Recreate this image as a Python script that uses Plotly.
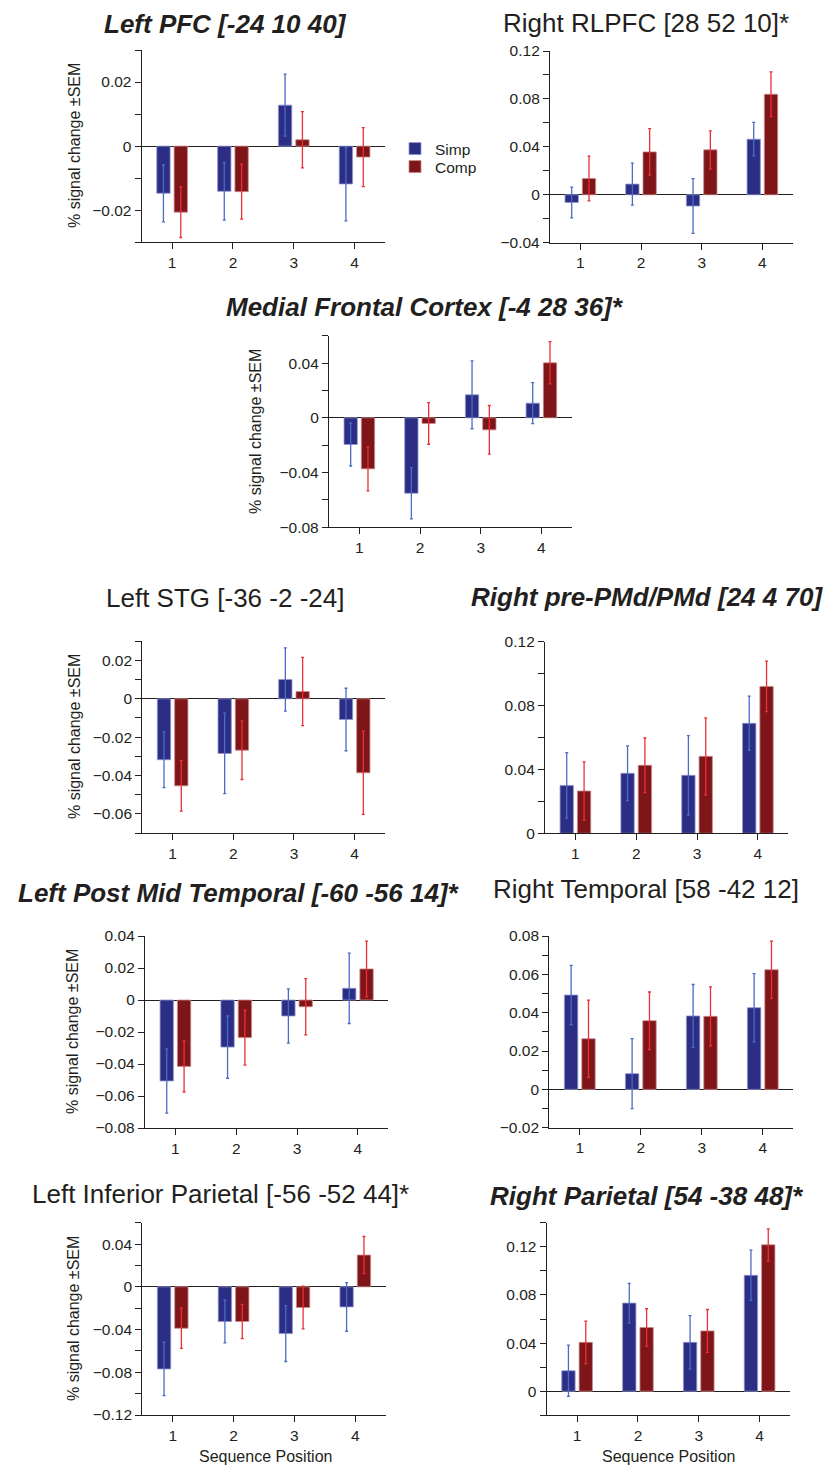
import plotly.graph_objects as go

W, H = 831, 1466
PAGE_OFFSET = 8  # the page body margin shifts the figure by this many pixels

# ---------------- data ----------------
positions = [1, 2, 3, 4]
position_labels = ["1", "2", "3", "4"]
series_names = ["Simp", "Comp"]

panel_titles = [
    "Left PFC [-24 10 40]",
    "Right RLPFC [28 52 10]*",
    "Medial Frontal Cortex [-4 28 36]*",
    "Left STG [-36 -2 -24]",
    "Right pre-PMd/PMd [24 4 70]",
    "Left Post Mid Temporal [-60 -56 14]*",
    "Right Temporal [58 -42 12]",
    "Left Inferior Parietal [-56 -52 44]*",
    "Right Parietal [54 -38 48]*",
]
title_bold = [True, False, True, False, True, True, False, False, True]

left_pfc_simp = [-0.0147, -0.0141, 0.0128, -0.0118]
left_pfc_simp_sem = [0.0089, 0.0090, 0.0097, 0.0115]
left_pfc_comp = [-0.0206, -0.0142, 0.0020, -0.0034]
left_pfc_comp_sem = [0.0079, 0.0086, 0.0088, 0.0092]

right_rlpfc_simp = [-0.0064, 0.0089, -0.0094, 0.0464]
right_rlpfc_simp_sem = [0.0128, 0.0175, 0.0228, 0.0140]
right_rlpfc_comp = [0.0136, 0.0358, 0.0375, 0.0839]
right_rlpfc_comp_sem = [0.0187, 0.0194, 0.0158, 0.0187]

medial_frontal_simp = [-0.0195, -0.0551, 0.0168, 0.0107]
medial_frontal_simp_sem = [0.0157, 0.0187, 0.0248, 0.0150]
medial_frontal_comp = [-0.0373, -0.0041, -0.0088, 0.0402]
medial_frontal_comp_sem = [0.0161, 0.0152, 0.0178, 0.0154]

left_stg_simp = [-0.0318, -0.0285, 0.0101, -0.0108]
left_stg_simp_sem = [0.0145, 0.0210, 0.0165, 0.0163]
left_stg_comp = [-0.0454, -0.0268, 0.0038, -0.0386]
left_stg_comp_sem = [0.0132, 0.0153, 0.0178, 0.0217]

right_pmd_simp = [0.0300, 0.0376, 0.0363, 0.0689]
right_pmd_simp_sem = [0.0205, 0.0171, 0.0249, 0.0170]
right_pmd_comp = [0.0265, 0.0426, 0.0482, 0.0920]
right_pmd_comp_sem = [0.0182, 0.0171, 0.0241, 0.0158]

left_pmt_simp = [-0.0506, -0.0294, -0.0100, 0.0073]
left_pmt_simp_sem = [0.0201, 0.0195, 0.0169, 0.0220]
left_pmt_comp = [-0.0415, -0.0235, -0.0042, 0.0194]
left_pmt_comp_sem = [0.0160, 0.0172, 0.0176, 0.0174]

right_temporal_simp = [0.0492, 0.0082, 0.0383, 0.0426]
right_temporal_simp_sem = [0.0155, 0.0183, 0.0164, 0.0178]
right_temporal_comp = [0.0264, 0.0358, 0.0381, 0.0624]
right_temporal_comp_sem = [0.0201, 0.0150, 0.0154, 0.0149]

left_ip_simp = [-0.0769, -0.0325, -0.0438, -0.0188]
left_ip_simp_sem = [0.0250, 0.0199, 0.0261, 0.0228]
left_ip_comp = [-0.0388, -0.0325, -0.0194, 0.0297]
left_ip_comp_sem = [0.0188, 0.0161, 0.0200, 0.0174]

right_parietal_simp = [0.0170, 0.0732, 0.0406, 0.0963]
right_parietal_simp_sem = [0.0213, 0.0164, 0.0222, 0.0209]
right_parietal_comp = [0.0406, 0.0529, 0.0501, 0.1216]
right_parietal_comp_sem = [0.0177, 0.0156, 0.0178, 0.0132]

y_ranges = [(-0.03, 0.03), (-0.04, 0.12), (-0.08, 0.06), (-0.07, 0.03), (0.0, 0.12),
            (-0.08, 0.04), (-0.02, 0.08), (-0.12, 0.06), (-0.02, 0.14)]
y_major = [0.02, 0.04, 0.04, 0.02, 0.04, 0.02, 0.02, 0.04, 0.04]
y_minor = [0.01, 0.02, 0.02, 0.01, 0.02, None, 0.01, 0.02, 0.02]

panels_data = [
    (left_pfc_simp, left_pfc_simp_sem, left_pfc_comp, left_pfc_comp_sem),
    (right_rlpfc_simp, right_rlpfc_simp_sem, right_rlpfc_comp, right_rlpfc_comp_sem),
    (medial_frontal_simp, medial_frontal_simp_sem, medial_frontal_comp, medial_frontal_comp_sem),
    (left_stg_simp, left_stg_simp_sem, left_stg_comp, left_stg_comp_sem),
    (right_pmd_simp, right_pmd_simp_sem, right_pmd_comp, right_pmd_comp_sem),
    (left_pmt_simp, left_pmt_simp_sem, left_pmt_comp, left_pmt_comp_sem),
    (right_temporal_simp, right_temporal_simp_sem, right_temporal_comp, right_temporal_comp_sem),
    (left_ip_simp, left_ip_simp_sem, left_ip_comp, left_ip_comp_sem),
    (right_parietal_simp, right_parietal_simp_sem, right_parietal_comp, right_parietal_comp_sem),
]

y_title = "% signal change ±SEM"
x_title = "Sequence Position"

# ---------------- layout geometry (screen pixels) ----------------
boxes = [
    (141.7, 385.0, 50.0, 242.3),
    (550.0, 792.7, 51.0, 242.7),
    (329.0, 571.7, 335.7, 527.3),
    (142.3, 385.0, 641.3, 833.0),
    (545.0, 788.3, 641.7, 833.3),
    (145.0, 388.3, 936.0, 1128.0),
    (549.3, 793.3, 936.0, 1127.7),
    (142.3, 385.7, 1222.7, 1415.0),
    (546.7, 790.0, 1222.7, 1415.3),
]
title_pos = [(225, 24), (646, 23), (425, 307), (225, 598), (647, 597),
             (239, 893), (646, 889), (220, 1194), (647, 1196)]
ytitle_pos = {0: (75, 146), 2: (255, 432), 3: (75, 737), 5: (72, 1032), 7: (73, 1319)}
xtitle_pos = [(265, 1456), (668, 1456)]

FONT = "Liberation Sans, Arial, Helvetica, sans-serif"
INK = "#231F20"
SIMP_FILL = "#2B2E84"
SIMP_EDGE = "#9297CC"
SIMP_ERR = "#4A6CC6"
COMP_FILL = "#7E1519"
COMP_EDGE = "#C98C8C"
COMP_ERR = "#EC2F36"


def px_x(v):
    return (v - PAGE_OFFSET) / W


def px_y(v):
    return 1 - (v - PAGE_OFFSET) / H


fig = go.Figure()
layout = dict(
    width=W, height=H,
    margin=dict(l=0, r=0, t=0, b=0, autoexpand=False),
    paper_bgcolor="white", plot_bgcolor="white",
    barmode="group", bargap=0.43, bargroupgap=0.23,
    font=dict(family=FONT, size=15, color=INK),
    showlegend=True,
    legend=dict(x=px_x(395), y=px_y(149), xanchor="left", yanchor="middle",
                font=dict(size=15.5, color=INK), bgcolor="rgba(0,0,0,0)",
                itemwidth=30, borderwidth=0),
    legend2=dict(x=px_x(395), y=px_y(167), xanchor="left", yanchor="middle",
                 font=dict(size=15.5, color=INK), bgcolor="rgba(0,0,0,0)",
                 itemwidth=30, borderwidth=0),
)
annotations = []

for i, (s, s_sem, c, c_sem) in enumerate(panels_data):
    k = "" if i == 0 else str(i + 1)
    xa, ya = "x" + k, "y" + k
    x0, x1, top, bot = boxes[i]
    fig.add_trace(go.Bar(
        x=positions, y=s, name=series_names[0], xaxis=xa, yaxis=ya,
        marker=dict(color=SIMP_FILL, line=dict(color=SIMP_EDGE, width=0.8)),
        error_y=dict(type="data", array=s_sem, color=SIMP_ERR, thickness=1.3, width=1.5),
        showlegend=(i == 0), legend="legend",
    ))
    fig.add_trace(go.Bar(
        x=positions, y=c, name=series_names[1], xaxis=xa, yaxis=ya,
        marker=dict(color=COMP_FILL, line=dict(color=COMP_EDGE, width=0.8)),
        error_y=dict(type="data", array=c_sem, color=COMP_ERR, thickness=1.3, width=1.5),
        showlegend=(i == 0), legend="legend2",
    ))
    lo, hi = y_ranges[i]
    eps = (hi - lo) * 1e-6
    yax = dict(
        domain=[px_y(bot), px_y(top)], anchor=xa, range=[lo - eps, hi + eps],
        showline=True, linecolor=INK, linewidth=1.3,
        ticks="outside", ticklen=6, tickwidth=1.2, tickcolor=INK,
        dtick=y_major[i], tick0=0, showgrid=False,
        zeroline=True, zerolinecolor=INK, zerolinewidth=1.3,
        tickfont=dict(size=15.5, color=INK, family=FONT),
    )
    if y_minor[i] is not None:
        yax["minor"] = dict(dtick=y_minor[i], tick0=0, ticks="outside", ticklen=6,
                            tickwidth=1.2, tickcolor=INK, showgrid=False)
    xax = dict(
        domain=[px_x(x0), px_x(x1)], anchor=ya, range=[0.5, 4.5],
        showline=True, linecolor=INK, linewidth=1.3,
        ticks="outside", ticklen=6, tickwidth=1.2, tickcolor=INK,
        tickvals=positions, ticktext=position_labels, showgrid=False, zeroline=False,
        tickfont=dict(size=15.5, color=INK, family=FONT),
    )
    layout["xaxis" + k] = xax
    layout["yaxis" + k] = yax

    tx, ty = title_pos[i]
    txt = panel_titles[i]
    if title_bold[i]:
        txt = "<b><i>" + txt + "</i></b>"
    annotations.append(dict(text=txt, x=px_x(tx), y=px_y(ty), xref="paper", yref="paper",
                            xanchor="center", yanchor="middle", showarrow=False,
                            font=dict(size=26, color=INK, family=FONT)))
    if i in ytitle_pos:
        ax_, ay_ = ytitle_pos[i]
        annotations.append(dict(text=y_title, x=px_x(ax_), y=px_y(ay_), xref="paper", yref="paper",
                                xanchor="center", yanchor="middle", textangle=-90, showarrow=False,
                                font=dict(size=16, color=INK, family=FONT)))

for (ax_, ay_) in xtitle_pos:
    annotations.append(dict(text=x_title, x=px_x(ax_), y=px_y(ay_), xref="paper", yref="paper",
                            xanchor="center", yanchor="middle", showarrow=False,
                            font=dict(size=16, color=INK, family=FONT)))

layout["annotations"] = annotations
fig.update_layout(**layout)
fig.write_html("out.html")
